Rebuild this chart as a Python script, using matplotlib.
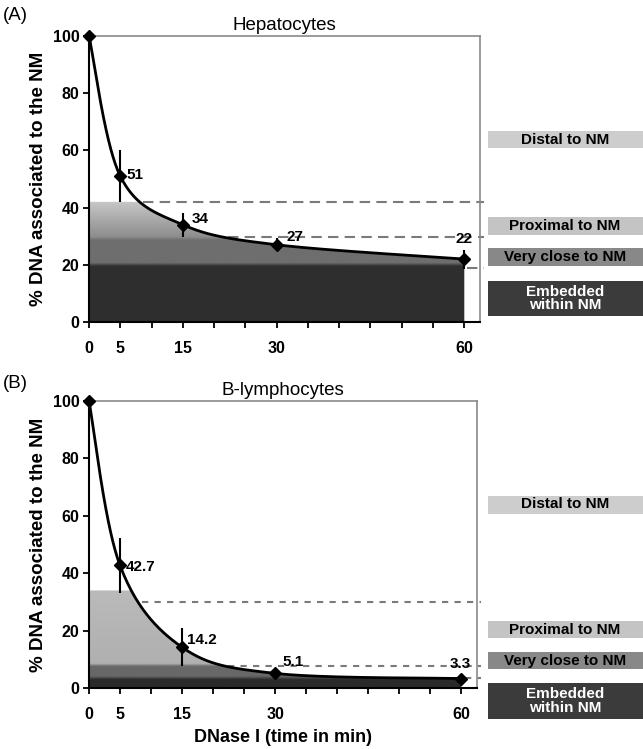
import numpy as np
import matplotlib
matplotlib.use("Agg")
import matplotlib.pyplot as plt
from matplotlib.patches import Rectangle

plt.rcParams['font.family'] = ['Liberation Sans', 'DejaVu Sans']

# ── DATA ──────────────────────────────────────────────────────────────────────
time_min = [0, 5, 15, 30, 60]

hep_values = [100, 51, 34, 27, 22]
hep_err = [0, 9, 4.2, 2.3, 3.3]
hep_labels = ['', '51', '34', '27', '22']

lym_values = [100, 42.7, 14.2, 5.1, 3.3]
lym_err = [0, 9.5, 6.6, 1.5, 0.5]
lym_labels = ['', '42.7', '14.2', '5.1', '3.3']

# band limits (% DNA) for embedded / very close / proximal
hep_bands = [20, 29, 42]
hep_dash = [42, 29.6, 19]
lym_bands = [3.5, 8, 34]
lym_dash = [30, 7.7, 3.6]

zone_names = ['Distal to NM', 'Proximal to NM', 'Very close to NM', 'Embedded\nwithin NM']


def smooth_curve(x, y, n=80):
    # Excel-style smoothed line (cubic Bezier through the points)
    pts = np.column_stack([x, y]).astype(float)
    out = []
    for i in range(len(pts) - 1):
        p0 = pts[max(i - 1, 0)]
        p1 = pts[i]
        p2 = pts[i + 1]
        p3 = pts[min(i + 2, len(pts) - 1)]
        c1 = p1 + (p2 - p0) / 6
        c2 = p2 - (p3 - p1) / 6
        t = np.linspace(0, 1, n)[:, None]
        seg = (1 - t)**3 * p1 + 3 * (1 - t)**2 * t * c1 + 3 * (1 - t) * t**2 * c2 + t**3 * p2
        out.append(seg if i == 0 else seg[1:])
    c = np.vstack(out)
    return c[:, 0], c[:, 1]


def gray(v):
    return np.array([v, v, v]) / 255.0


def shade_profile(yy, bands, cols, top_light):
    # colour for each height: dark / medium / gradient light band
    b0, b1, b2 = bands
    rgb = np.zeros((len(yy), 3))
    for k, yv in enumerate(yy):
        if yv < b0 - 0.6:
            rgb[k] = cols[0]
        elif yv < b0 + 0.6:
            f = (yv - (b0 - 0.6)) / 1.2
            rgb[k] = cols[0] * (1 - f) + cols[1] * f
        elif yv < b1 - 0.5:
            rgb[k] = cols[1]
        elif yv < b1 + 0.5:
            f = (yv - (b1 - 0.5)) / 1.0
            rgb[k] = cols[1] * (1 - f) + cols[2] * f
        else:
            f = (yv - b1) / (b2 - b1)
            rgb[k] = cols[2] * (1 - f) + top_light * f
    return rgb


def draw_panel(ax, values, err, labels, bands, dash, cols, top_light,
               label_pos, title, dash_style):
    xs, ys = smooth_curve(time_min, values)
    xmax = 62.5

    # shaded area under the curve, capped at the top band
    top = bands[2]
    poly = ax.fill_between(xs, 0, np.minimum(ys, top), color='none', lw=0)
    yy = np.linspace(0, top, 400)
    img = shade_profile(yy, bands, cols, top_light)[:, None, :]
    im = ax.imshow(img, extent=[0, time_min[-1], 0, top], origin='lower',
                   aspect='auto', interpolation='bilinear', zorder=1)
    im.set_clip_path(poly.get_paths()[0], transform=ax.transData)

    # dashed boundary lines starting just right of the curve
    for lvl in dash[:2]:
        idx = np.argmax(ys <= lvl)
        x0 = xs[idx] + 0.6
        ax.plot([x0, xmax + 0.6], [lvl, lvl], ls=dash_style, color='#7a7a7a',
                lw=1.5, zorder=2, clip_on=False)
    ax.plot([time_min[-1] + 0.5, xmax + 0.6], [dash[2], dash[2]], ls=dash_style,
            color='#7a7a7a', lw=1.5, zorder=2, clip_on=False)

    ax.plot(xs, ys, color='black', lw=2, zorder=4)
    ax.errorbar(time_min, values, yerr=err, fmt='D', color='black', ms=6.5,
                elinewidth=1.5, capsize=0, zorder=5, clip_on=False)

    for (lx, ly, ha), txt in zip(label_pos, labels):
        if txt:
            ax.text(lx, ly, txt, ha=ha, va='center', fontsize=11,
                    fontweight='bold', zorder=6)

    ax.set_xlim(0, xmax)
    ax.set_ylim(0, 100)
    ax.set_yticks(range(0, 101, 20))
    ax.set_xticks(np.arange(0, 61, 5))
    ax.set_xticklabels([str(v) if v in time_min else '' for v in range(0, 61, 5)])
    for lab in ax.get_xticklabels() + ax.get_yticklabels():
        lab.set_fontweight('bold')
        lab.set_fontsize(11.5)
    ax.tick_params(axis='both', direction='out', length=4, width=1.3, pad=10)
    ax.tick_params(axis='y', pad=3)
    ax.spines['left'].set_linewidth(1.5)
    ax.spines['bottom'].set_linewidth(1.5)
    for s in ['top', 'right']:
        ax.spines[s].set_color('#8a8a8a')
        ax.spines[s].set_linewidth(1.2)
    ax.set_ylabel('% DNA associated to the NM', fontsize=13.5, fontweight='bold',
                  labelpad=4)
    ax.set_title(title, fontsize=13.5, pad=4)


def zone_boxes(fig, centers_px, heights_px):
    fills = ['#cdcdcd', '#c4c4c4', '#888888', '#3b3b3b']
    tcols = ['black', 'black', 'black', 'white']
    W, H = 643, 749
    x0, x1 = 488, 643
    for name, cy, h, fc, tc in zip(zone_names, centers_px, heights_px, fills, tcols):
        fig.add_artist(Rectangle((x0 / W, 1 - (cy + h / 2) / H), (x1 - x0) / W, h / H,
                                 transform=fig.transFigure, facecolor=fc, lw=0))
        fig.text(565 / W, 1 - cy / H, name, ha='center', va='center',
                 fontsize=11, fontweight='bold', color=tc, linespacing=0.95)


fig = plt.figure(figsize=(6.43, 7.49), dpi=100)
axA = fig.add_axes([0.1384, 0.5701, 0.608, 0.3819])
axB = fig.add_axes([0.1384, 0.0814, 0.6034, 0.3832])

draw_panel(axA, hep_values, hep_err, hep_labels, hep_bands, hep_dash,
           [gray(46), gray(110), gray(138)], gray(200),
           [(0, 0, 'left'), (6.0, 51.5, 'left'), (16.4, 36, 'left'),
            (31.6, 29.7, 'left'), (60, 29, 'center')],
           'Hepatocytes', (0, (5, 3)))
draw_panel(axB, lym_values, lym_err, lym_labels, lym_bands, lym_dash,
           [gray(42), gray(104), gray(176)], gray(186),
           [(0, 0, 'left'), (6.0, 42.2, 'left'), (15.8, 16.7, 'left'),
            (31.2, 8.9, 'left'), (59.8, 8.4, 'center')],
           'B-lymphocytes', (0, (3, 3)))
axB.set_xlabel('DNase I (time in min)', fontsize=13, fontweight='bold', labelpad=5)

fig.text(3 / 643, 1 - 15 / 749, '(A)', fontsize=13.5, va='center')
fig.text(3 / 643, 1 - 383 / 749, '(B)', fontsize=13.5, va='center')

zone_boxes(fig, [139.5, 226, 257, 298.5], [17, 17, 17, 35])
zone_boxes(fig, [504.5, 629.5, 660.5, 701], [18, 17, 17, 36])

fig.savefig('out.png', dpi=100)
